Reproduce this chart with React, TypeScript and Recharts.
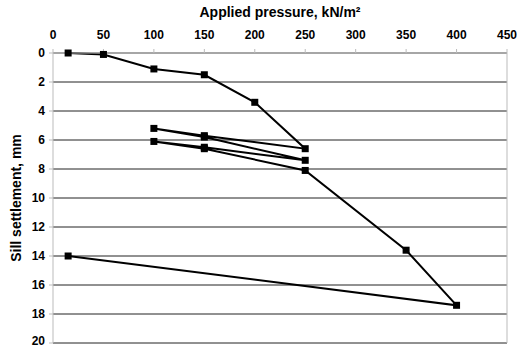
import { LineChart, Line, XAxis, YAxis, CartesianGrid, ReferenceLine, Label } from "recharts";

// loading / unloading sequence, in test order
const pressure = [15, 50, 100, 150, 200, 250, 150, 100, 150, 250, 150, 100, 150, 250, 350, 400, 15];
const settlement = [0, 0.1, 1.1, 1.5, 3.4, 6.6, 5.7, 5.2, 5.8, 7.4, 6.5, 6.1, 6.6, 8.1, 13.6, 17.4, 14.0];
const xTicks = [0, 50, 100, 150, 200, 250, 300, 350, 400, 450];
const yTicks = [0, 2, 4, 6, 8, 10, 12, 14, 16, 18, 20];

const data = pressure.map((p, i) => ({ p, s: settlement[i] }));

const font = "'Liberation Sans', Arial, sans-serif";
const tickStyle = { fill: "#000", fontSize: 12, fontWeight: "bold", fontFamily: font };

function SquareDot(props: any) {
  const { cx, cy } = props;
  if (cx == null || cy == null) return null;
  return <rect x={cx - 3.5} y={cy - 3.5} width={7} height={7} fill="#000" />;
}

export default function App() {
  return (
    <div style={{ position: "absolute", left: 0, top: 0, background: "#fff" }}>
      <LineChart
        width={517}
        height={348}
        data={data}
        margin={{ top: 0, right: 10, bottom: 5, left: 0 }}
      >
        <CartesianGrid vertical={false} stroke="#222" strokeWidth={1} />
        <XAxis
          type="number"
          dataKey="p"
          orientation="top"
          domain={[0, 450]}
          ticks={xTicks}
          height={53}
          stroke="#bbb"
          tickSize={4}
          tickMargin={10}
          tick={tickStyle}
        >
          <Label
            value="Applied pressure, kN/m²"
            position="insideTop"
            offset={7}
            style={{ fill: "#000", fontSize: 14, fontWeight: "bold", fontFamily: font }}
          />
        </XAxis>
        <YAxis
          type="number"
          reversed
          domain={[0, 20]}
          ticks={yTicks}
          width={53}
          stroke="#bbb"
          tickSize={4}
          tickMargin={4}
          tick={tickStyle}
        >
          <Label
            value="Sill settlement, mm"
            angle={-90}
            position="insideLeft"
            offset={16}
            style={{ textAnchor: "middle", fill: "#000", fontSize: 14, fontWeight: "bold", fontFamily: font }}
          />
        </YAxis>
        <ReferenceLine x={450} stroke="#bbb" />
        <Line
          type="linear"
          dataKey="s"
          stroke="#000"
          strokeWidth={2}
          dot={<SquareDot />}
          activeDot={false}
          isAnimationActive={false}
        />
      </LineChart>
    </div>
  );
}
